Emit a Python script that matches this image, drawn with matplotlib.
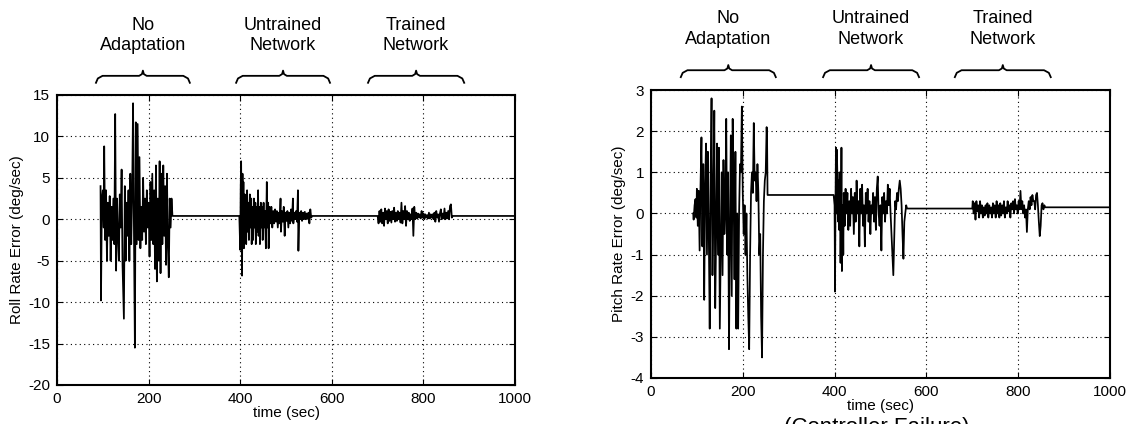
import matplotlib
matplotlib.use("Agg")
import matplotlib.pyplot as plt

plt.rcParams["font.family"] = ["Liberation Sans", "DejaVu Sans"]
plt.rcParams["axes.unicode_minus"] = False

# roll rate error (deg/sec) vs time (sec)
roll_t = [95, 96, 98, 100, 102, 103, 105, 107, 109, 111, 113, 115, 117, 119, 121, 123, 125, 127, 129, 131,
          133, 135, 137, 139, 141, 143, 145, 146, 148, 150, 152, 154, 156, 158, 160, 162, 164, 166, 168, 170,
          172, 174, 176, 178, 180, 182, 184, 186, 188, 190, 192, 194, 196, 198, 200, 202, 204, 206, 208, 210,
          212, 214, 216, 218, 220, 222, 224, 226, 228, 230, 232, 234, 236, 238, 240, 242, 244, 246, 248, 250,
          252,
          398, 400, 401, 402, 403, 404, 405, 406, 407, 408, 410, 411, 412, 413, 415, 416, 418, 419, 421, 422,
          424, 425, 427, 428, 430, 431, 433, 434, 436, 437, 439, 440, 442, 443, 445, 446, 448, 449, 451, 452,
          454, 456, 458, 459, 461, 462, 464, 466, 468, 470, 472, 474, 476, 478, 480, 482, 484, 486, 488, 489,
          491, 493, 495, 497, 499, 501, 503, 505, 507, 509, 511, 513, 515, 516, 518, 520, 522, 524, 526, 527,
          529, 531, 533, 535, 537, 539, 541, 543, 545, 547, 549, 551, 553, 555, 557,
          700, 702, 704, 706, 708, 710, 712, 714, 716, 718, 720, 722, 724, 726, 728, 730, 732, 734, 736, 738,
          740, 742, 744, 746, 748, 750, 752, 754, 756, 758, 760, 762, 764, 766, 768, 770, 772, 774, 776, 778,
          780, 782, 784, 786, 788, 790, 792, 794, 796, 798, 800, 802, 804, 806, 808, 810, 812, 814, 816, 818,
          820, 822, 824, 826, 828, 830, 832, 834, 836, 838, 840, 842, 844, 846, 848, 850, 852, 854, 856, 858,
          860, 862, 864, 1000]
roll_v = [4.0, -9.8, 2.5, 3.5, -1.0, 8.8, -2.5, 3.5, -5.0, 2.0, -2.0, 2.8, -5.0, 1.5, -2.5, 2.5, -3.0, 12.7, -6.2, 2.5,
          -2.0, -5.0, 3.0, -1.0, 6.0, -5.5, -10.0, -12.0, 4.0, -5.0, 2.0, -2.0, 3.5, -5.0, 5.5, -3.0, 3.0, 14.0, -2.0, -15.5,
          11.7, -3.0, 11.5, -2.5, 7.5, -3.5, 1.5, -2.5, 5.0, -1.5, 2.5, -3.0, 3.5, -1.0, 2.0, -4.5, 4.5, -2.5, 5.5, -3.0,
          3.5, -6.0, 6.5, -7.5, 2.5, -5.0, 7.0, -6.5, 5.5, -3.0, 6.5, -2.0, 4.0, -5.5, 5.5, -3.0, -7.0, 2.5, -1.0, 2.5,
          0.4,
          0.4, -3.7, 4.0, 7.0, -1.0, -6.8, 5.5, -2.5, 4.5, -3.5, 3.0, -2.0, 2.5, -3.0, 3.5, -1.5, 2.0, -2.5, 3.0, -1.0,
          2.5, -3.0, 1.5, -2.5, 2.5, -1.0, 2.0, -3.0, 1.5, -1.5, 3.5, -2.0, 1.5, -3.0, 2.0, -1.0, 1.5, -2.5, 2.0, -1.0,
          1.0, -3.5, 4.5, -1.0, 2.0, -3.5, 1.5, -0.5, 1.5, -1.0, 1.0, -0.5, 1.2, -0.3, 1.0, -1.0, 0.8, -0.5, 2.5, -1.5,
          1.0, -0.3, 1.5, -2.0, 0.8, -0.2, 1.0, -1.0, 0.8, -0.5, 1.2, -0.2, 2.5, -0.5, 0.8, 0.0, 1.0, -0.3, 3.5, -3.8,
          0.8, 0.0, 1.0, -0.2, 0.8, 0.0, 0.9, 0.0, 0.7, 0.1, 0.8, -0.5, 1.2, 0.2, 0.4,
          0.4, -0.5, 1.0, -0.3, 1.2, -0.5, 0.8, -0.8, 1.3, 0.0, 1.0, -0.5, 1.2, -0.2, 0.9, -0.4, 1.0, 0.0, 1.4, -0.3,
          0.8, -0.2, 1.0, 0.0, 0.8, -0.4, 2.0, -0.5, 1.0, 0.0, 1.6, -0.8, 1.0, 0.0, 0.8, -0.2, 0.6, 0.0, 1.3, -2.0,
          1.5, 0.0, 0.8, 0.1, 0.7, 0.2, 0.6, 0.1, 1.0, 0.2, 0.7, 0.0, 0.6, 0.2, 0.5, 0.1, 0.8, 0.1, 0.6, 0.2,
          0.6, 0.0, 0.8, -0.3, 1.0, 0.2, 0.6, -0.3, 0.7, 1.2, 0.0, 0.7, 0.1, 1.3, 0.0, 0.8, 0.1, 1.0, 0.0, 1.6,
          1.8, 0.2, 0.4, 0.4]

# pitch rate error (deg/sec) vs time (sec)
pitch_t = [92, 93, 95, 97, 99, 100, 102, 104, 106, 108, 110, 112, 114, 116, 118, 120, 122, 124, 126, 128,
           130, 132, 134, 136, 138, 140, 142, 144, 146, 148, 150, 152, 154, 156, 158, 160, 162, 164, 166, 168,
           170, 172, 174, 176, 178, 180, 182, 184, 186, 188, 190, 192, 194, 196, 198, 200, 202, 204, 206, 208,
           210, 212, 214, 216, 218, 220, 222, 224, 226, 228, 230, 232, 234, 236, 238, 240, 242, 244, 246, 248,
           250, 252, 253, 254,
           398, 400, 401, 402, 403, 404, 405, 406, 407, 408, 409, 410, 411, 413, 414, 415, 416, 418, 419, 420,
           422, 424, 426, 428, 430, 432, 434, 436, 438, 440, 442, 444, 446, 448, 450, 452, 454, 456, 458, 460,
           462, 464, 466, 468, 470, 472, 474, 476, 478, 480, 482, 484, 486, 488, 490, 492, 494, 496, 498, 500,
           502, 504, 506, 508, 510, 512, 514, 516, 518, 520, 522, 524, 526, 528, 530, 532, 534, 536, 538, 540,
           542, 544, 546, 548, 550, 552, 554, 556, 558,
           700, 701, 703, 705, 707, 709, 711, 713, 715, 717, 719, 721, 723, 725, 727, 729, 731, 733, 735, 737,
           739, 741, 743, 745, 747, 749, 751, 753, 755, 757, 759, 761, 763, 765, 767, 769, 771, 773, 775, 777,
           779, 781, 783, 785, 787, 789, 791, 793, 795, 797, 799, 801, 803, 805, 807, 809, 811, 813, 815, 817,
           819, 821, 823, 825, 827, 829, 831, 833, 835, 837, 839, 841, 843, 845, 847, 849, 851, 853, 855, 857,
           859, 862, 1000]
pitch_v = [0.0, -0.15, 0.2, 0.35, -0.1, 0.6, -0.3, 0.55, -0.9, 0.7, 1.85, -0.8, 1.2, -2.1, 0.7, 1.7, -1.0, 1.5, -0.5, -2.8,
           0.9, 2.8, -1.5, 0.2, 2.5, -2.3, -0.5, 1.7, -1.0, 1.6, -2.8, -0.8, 1.0, -1.5, 1.3, -0.5, 0.0, 2.3, -1.0, 1.0,
           -3.3, -0.5, 1.9, -2.0, 2.3, 0.5, -1.6, 1.5, -2.8, 0.0, -2.8, 0.0, 1.2, 1.0, 2.6, 0.5, -0.5, 0.2, -1.0, 0.0,
           -1.5, -2.5, -3.3, -1.0, 0.5, 1.0, 0.5, 2.2, 0.8, 1.0, 0.3, 1.2, 0.5, -1.0, -0.5, -2.5, -3.5, -1.0, 0.3, 0.8,
           1.0, 2.1, 1.8, 0.45,
           0.45, 0.2, -1.9, 0.2, 1.6, 0.0, 1.55, 1.0, 0.3, -0.2, 0.8, -0.4, 1.0, -1.2, -0.3, 1.6, -1.4, 0.2, -1.0, 0.5,
           -0.3, 0.6, 0.0, 0.5, -0.4, 0.3, -0.3, 0.6, 0.0, 0.4, -0.5, 0.5, -0.2, 0.8, 0.0, 0.3, -0.8, 0.6, 0.0, 0.7,
           -0.3, 0.2, -0.8, 0.5, 0.0, 0.6, -0.2, 0.3, -0.5, 0.2, 0.0, 0.5, -0.2, 0.4, -0.4, 0.6, 0.9, 0.0, -0.3, 0.2,
           -0.9, 0.4, 0.0, 0.5, -0.2, 0.3, 0.0, 0.7, 0.2, 0.6, 0.0, -0.5, -1.0, -1.5, -0.6, 0.3, 0.1, 0.5, 0.3, 0.6,
           0.8, 0.6, 0.2, -0.5, -1.1, -0.2, 0.0, 0.2, 0.12,
           0.12, 0.3, 0.0, 0.25, -0.15, 0.3, 0.05, 0.2, -0.1, 0.3, 0.0, 0.2, -0.1, 0.15, -0.05, 0.2, 0.0, 0.25, -0.1, 0.2,
           0.0, 0.15, -0.1, 0.25, 0.0, 0.2, -0.1, 0.3, 0.0, 0.2, -0.1, 0.25, -0.05, 0.2, 0.0, 0.3, -0.1, 0.15, 0.0, 0.3,
           0.05, 0.2, -0.1, 0.25, 0.1, 0.3, 0.0, 0.35, 0.1, 0.2, 0.0, 0.3, 0.1, 0.55, 0.1, 0.3, 0.0, 0.2, -0.1, 0.1,
           -0.45, 0.1, 0.3, 0.1, 0.4, 0.2, 0.45, 0.3, 0.3, 0.1, 0.45, 0.5, 0.2, -0.2, -0.55, -0.3, 0.2, 0.25, 0.1, 0.2,
           0.15, 0.15, 0.15]

phase_names = ["No\nAdaptation", "Untrained\nNetwork", "Trained\nNetwork"]
roll_phases = [(85, 290), (391, 596), (679, 889)]
pitch_phases = [(65, 272), (375, 584), (662, 871)]


def brace(ax, x0, x1, y):
    # curly brace above the axes, x in data units, y in axes fraction
    w = x1 - x0
    fx = [0, 0.02, 0.07, 0.46, 0.49, 0.5, 0.51, 0.54, 0.93, 0.98, 1.0]
    fy = [-0.024, -0.009, 0, 0, 0.006, 0.018, 0.006, 0, 0, -0.009, -0.024]
    ax.plot([x0 + f * w for f in fx], [y + d for d in fy], color="black", lw=1.3,
            transform=ax.get_xaxis_transform(), clip_on=False)


def panel(ax, t, v, ylim, yticks, ylabel, phases, text_y, brace_y):
    ax.plot(t, v, color="black", lw=1.25)
    ax.set_xlim(0, 1000)
    ax.set_ylim(*ylim)
    ax.set_xticks([0, 200, 400, 600, 800, 1000])
    ax.set_yticks(yticks)
    ax.grid(True, color="black", linestyle=(0, (1, 3)), lw=0.8)
    ax.tick_params(direction="in", top=True, right=True, length=4, labelsize=11, pad=5)
    for s in ax.spines.values():
        s.set_linewidth(1.5)
    ax.set_xlabel("time (sec)", fontsize=11, labelpad=0)
    ax.set_ylabel(ylabel, fontsize=11, labelpad=3)
    for name, (a, b) in zip(phase_names, phases):
        brace(ax, a, b, brace_y)
        ax.text((a + b) / 2, text_y, name, ha="center", va="center", fontsize=13,
                linespacing=1.25, transform=ax.get_xaxis_transform())


fig = plt.figure(figsize=(11.27, 4.24), dpi=100)
ax1 = fig.add_axes([0.0506, 0.092, 0.4064, 0.684])
ax2 = fig.add_axes([0.5776, 0.1085, 0.4073, 0.679])

panel(ax1, roll_t, roll_v, (-20, 15), range(-20, 16, 5), "Roll Rate Error (deg/sec)",
      roll_phases, 1.205, 1.066)
panel(ax2, pitch_t, pitch_v, (-4, 3), range(-4, 4), "Pitch Rate Error (deg/sec)",
      pitch_phases, 1.212, 1.069)

fig.text(877 / 1127, 1 - 417 / 424, "(Controller Failure)", ha="center", va="top", fontsize=16)

fig.savefig("out.png", dpi=100)
